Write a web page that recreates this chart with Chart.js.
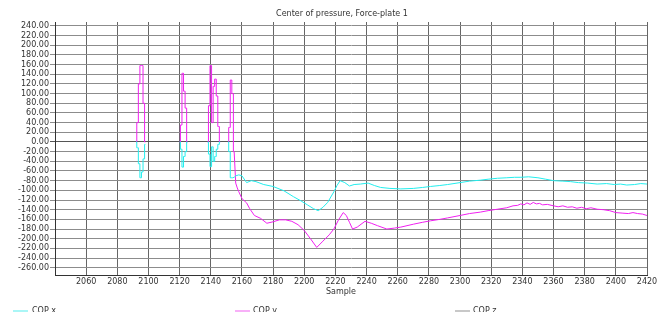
<!DOCTYPE html>
<html>
<head>
<meta charset="utf-8">
<style>
    body { margin: 0; background: #fff; }
    #wrap { position: relative; width: 663px; height: 312px; overflow: hidden;
            font-family: "DejaVu Sans", sans-serif; font-size: 8px; color: #333; }
    .txt { position: absolute; white-space: nowrap; line-height: 9px; }
    .sw { position: absolute; height: 2px; width: 15px; top: 310px; }
</style>
</head>
<body>
<div id="wrap">
    <canvas id="chart_id" width="663" height="312"></canvas>
    <div class="txt" style="left:342px; top:9px; transform:translateX(-50%);">Center of pressure, Force-plate 1</div>
    <div class="txt" style="left:341px; top:287px; transform:translateX(-50%);">Sample</div>
    <!-- legend (cut off at the bottom like the reference) -->
    <div class="sw" style="left:13px; background:#aaf6f6;"></div>
    <div class="txt" style="left:32px; top:306px;">COP x</div>
    <div class="sw" style="left:235px; background:#f8b0f8;"></div>
    <div class="txt" style="left:253px; top:306px;">COP y</div>
    <div class="sw" style="left:455px; background:#c8c8c8;"></div>
    <div class="txt" style="left:473px; top:306px;">COP z</div>
</div>
<script src="https://cdn.jsdelivr.net/npm/chart.js"></script>
<script>
    // COP x (cyan), spikes before the plate is loaded : sample / value, null = no data
    const copXSpikeSamples = [
        2092, 2093, 2094, 2095, 2096, 2097, 2098, 2099,
        2120, 2121, 2122, 2123, 2124, 2125, 2126,
        2138, 2139, 2140, 2141, 2142, 2143, 2144, 2145, 2146, 2147,
        2151, 2152, 2153, 2154
    ];
    const copXSpikeValues = [
        0, -12, -45, -74, -62, -35, -5, null,
        0, -15, -52, -30, -20, 0, null,
        0, -25, -51, -10, -40, -30, -15, -5, 0, null,
        0, -20, -74, -74
    ];
    // COP x, continuous part
    const copXSamples = [
        2154, 2155, 2156, 2158, 2160, 2163, 2166, 2169, 2174, 2180, 2187,
        2193, 2198, 2202, 2206, 2209, 2212, 2215, 2219, 2221, 2223, 2226, 2229, 2232, 2236,
        2241, 2245, 2249, 2255, 2262, 2270, 2276, 2281, 2287, 2292, 2300, 2306, 2313, 2318,
        2324, 2330, 2335, 2339, 2344, 2350, 2355, 2360, 2366, 2371, 2376, 2382, 2388, 2394,
        2399, 2403, 2407, 2412, 2416, 2420
    ];
    const copXValues = [
        -74, -73, -70, -68, -70, -84, -80, -82, -88, -92, -101,
        -113, -122, -130, -138, -142, -135, -125, -103, -90, -80, -84, -91, -88, -87,
        -85, -90, -94, -96, -97, -96, -94, -92, -90, -88, -84, -81, -79, -77,
        -75, -74, -73, -73, -72, -74, -77, -80, -81, -82, -84, -85, -87, -86,
        -88, -87, -89, -88, -86, -87
    ];

    // COP y (magenta), spikes
    const copYSpikeSamples = [
        2092, 2093, 2094, 2095, 2096, 2097, 2098, 2099,
        2120, 2121, 2122, 2123, 2124, 2125, 2126,
        2138, 2139, 2140, 2141, 2142, 2143, 2144, 2145, 2146, 2147,
        2151, 2152, 2153, 2154, 2155
    ];
    const copYSpikeValues = [
        0, 40, 120, 158, 158, 80, 0, null,
        0, 35, 142, 105, 70, 0, null,
        0, 75, 158, 40, 115, 130, 95, 32, 0, null,
        0, 30, 128, 100, -20
    ];
    // COP y, continuous part
    const copYSamples = [
        2155, 2156, 2157, 2158, 2160, 2163, 2165, 2168, 2172, 2176,
        2180, 2184, 2188, 2192, 2196, 2200, 2204, 2208, 2212, 2216, 2219, 2222, 2225, 2227,
        2229, 2231, 2234, 2239, 2243, 2247, 2253, 2258, 2262, 2270, 2276, 2281, 2287, 2292,
        2300, 2306, 2313, 2318, 2324, 2330, 2334, 2337, 2339, 2341, 2343, 2345, 2347, 2349,
        2351, 2353, 2356, 2360, 2363, 2366, 2369, 2372, 2375, 2378, 2381, 2384, 2388, 2392,
        2396, 2400, 2404, 2408, 2411, 2414, 2417, 2420
    ];
    const copYValues = [
        -20, -85, -95, -103, -117, -126, -138, -152, -158, -168,
        -165, -161, -161, -164, -171, -183, -200, -218, -205, -192, -180, -161, -146, -152,
        -166, -180, -176, -164, -168, -173, -180, -178, -176, -170, -166, -163, -160, -157,
        -152, -148, -145, -142, -139, -136, -132, -131, -128, -130, -126, -129, -125, -128,
        -127, -130, -129, -132, -134, -132, -135, -134, -137, -135, -138, -136, -139, -140,
        -142, -146, -147, -148, -146, -148, -149, -152
    ];

    // axes
    const xMin = 2040, xMax = 2420;
    const xTicks = [2040, 2060, 2080, 2100, 2120, 2140, 2160, 2180, 2200, 2220, 2240,
                    2260, 2280, 2300, 2320, 2340, 2360, 2380, 2400, 2420];
    const yMin = -275, yMax = 248;
    const yTicks = [-260, -240, -220, -200, -180, -160, -140, -120, -100, -80, -60, -40, -20,
                    0, 20, 40, 60, 80, 100, 120, 140, 160, 180, 200, 220, 240];

    const cyan = '#22eeee';
    const magenta = '#f020f0';
    const tickFont = { family: 'DejaVu Sans', size: 8 };
    const toPoints = (xs, ys) => xs.map((x, i) => ({ x: x, y: ys[i] }));
    const line = (label, pts, color, stepped) => ({
        label: label, data: pts, borderColor: color, borderWidth: 1,
        pointRadius: 0, tension: 0, spanGaps: false, stepped: stepped
    });

    new Chart(document.getElementById('chart_id'), {
        type: 'line',
        data: {
            datasets: [
                line('COP x', toPoints(copXSpikeSamples, copXSpikeValues), cyan, 'middle'),
                line('COP x', toPoints(copXSamples, copXValues), cyan, false),
                line('COP y', toPoints(copYSpikeSamples, copYSpikeValues), magenta, 'middle'),
                line('COP y', toPoints(copYSamples, copYValues), magenta, false)
            ]
        },
        options: {
            responsive: false,
            animation: false,
            layout: { padding: { left: 0, top: 22, right: 16, bottom: 17 } },
            plugins: {
                legend: { display: false },
                title: { display: false },
                tooltip: { enabled: false }
            },
            scales: {
                x: {
                    type: 'linear',
                    min: xMin,
                    max: xMax,
                    afterBuildTicks: s => { s.ticks = xTicks.map(v => ({ value: v })); },
                    ticks: {
                        autoSkip: false,
                        maxRotation: 0,
                        padding: 2,
                        font: tickFont,
                        color: '#333',
                        callback: v => v === xMin ? '' : String(v)
                    },
                    grid: { color: '#666', drawTicks: false },
                    border: { color: '#333' },
                    afterFit: s => { s.height = 20; }
                },
                y: {
                    min: yMin,
                    max: yMax,
                    afterBuildTicks: s => { s.ticks = yTicks.map(v => ({ value: v })); },
                    ticks: {
                        autoSkip: false,
                        padding: 1,
                        font: tickFont,
                        color: '#333',
                        callback: v => v.toFixed(2)
                    },
                    grid: {
                        color: c => (c.tick && c.tick.value === 0) ? '#555' : '#8c8c8c',
                        tickLength: 5
                    },
                    border: { color: '#333' },
                    afterFit: s => { s.width = 55; }
                }
            }
        }
    });
</script>
</body>
</html>
